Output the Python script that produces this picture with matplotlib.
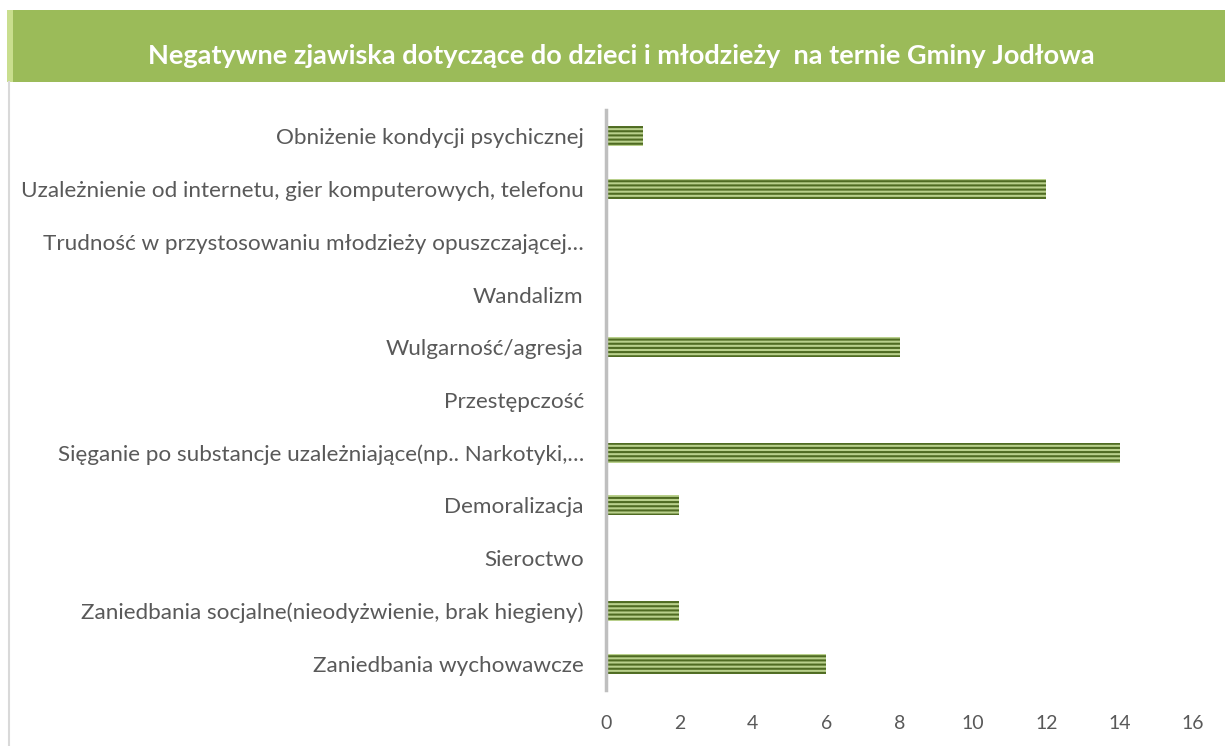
import matplotlib
matplotlib.use("Agg")
import matplotlib.pyplot as plt
from matplotlib.patches import Rectangle
from matplotlib.lines import Line2D

plt.rcParams['hatch.linewidth'] = 1.5
plt.rcParams['font.family'] = ['Lato', 'DejaVu Sans']

categories = [
    "Zaniedbania wychowawcze",
    "Zaniedbania socjalne(nieodyżwienie, brak hiegieny)",
    "Sieroctwo",
    "Demoralizacja",
    "Sięganie po substancje uzależniające(np.. Narkotyki,…",
    "Przestępczość",
    "Wulgarność/agresja",
    "Wandalizm",
    "Trudność w przystosowaniu młodzieży opuszczającej…",
    "Uzależnienie od internetu, gier komputerowych, telefonu",
    "Obniżenie kondycji psychicznej",
]
values = [6, 2, 0, 2, 14, 0, 8, 0, 0, 12, 1]
xticks = [0, 2, 4, 6, 8, 10, 12, 14, 16]
title = "Negatywne zjawiska dotyczące do dzieci i młodzieży  na ternie Gminy Jodłowa"

W, H = 1225, 746
fig = plt.figure(figsize=(W / 100, H / 100), dpi=100)

# title bar
fig.patches.append(Rectangle((7 / W, 1 - 82 / H), 1 - 7 / W, 72 / H,
                             transform=fig.transFigure, facecolor='#9BBB59',
                             edgecolor='none', zorder=0))
fig.patches.append(Rectangle((7 / W, 1 - 82 / H), 6 / W, 72 / H,
                             transform=fig.transFigure, facecolor='#C9DE8E',
                             edgecolor='none', zorder=1))
fig.lines.append(Line2D([8.5 / W, 8.5 / W], [0, 1 - 82 / H], transform=fig.transFigure,
                        color='#D9D9D9', linewidth=1.5))
fig.text(621 / W, 1 - 56 / H, title, ha='center', va='center', color='white',
         fontsize=19.5, fontweight='bold')

ax = fig.add_axes([606 / W, 1 - 690 / H, (1193 - 606) / W, (690 - 110) / H])
ypos = list(range(len(categories)))
ax.barh(ypos, values, height=0.38, color='#B9D08C', edgecolor='#4F6B22',
        hatch='-' * 4, linewidth=0)
ax.set_ylim(-0.5, 10.5)
ax.set_xlim(0, 16)
ax.set_yticks(ypos)
ax.set_yticklabels(categories, fontsize=16.2, color='#595959')
ax.set_xticks(xticks)
ax.set_xticklabels([str(v) for v in xticks], fontsize=14, color='#595959')
ax.tick_params(axis='y', length=0, pad=16)
ax.tick_params(axis='x', length=0, pad=18)
for s in ['top', 'right', 'bottom']:
    ax.spines[s].set_visible(False)
ax.spines['left'].set_color('#BFBFBF')
ax.spines['left'].set_linewidth(2.5)
ax.set_facecolor('none')

fig.savefig('out.png', dpi=100)
